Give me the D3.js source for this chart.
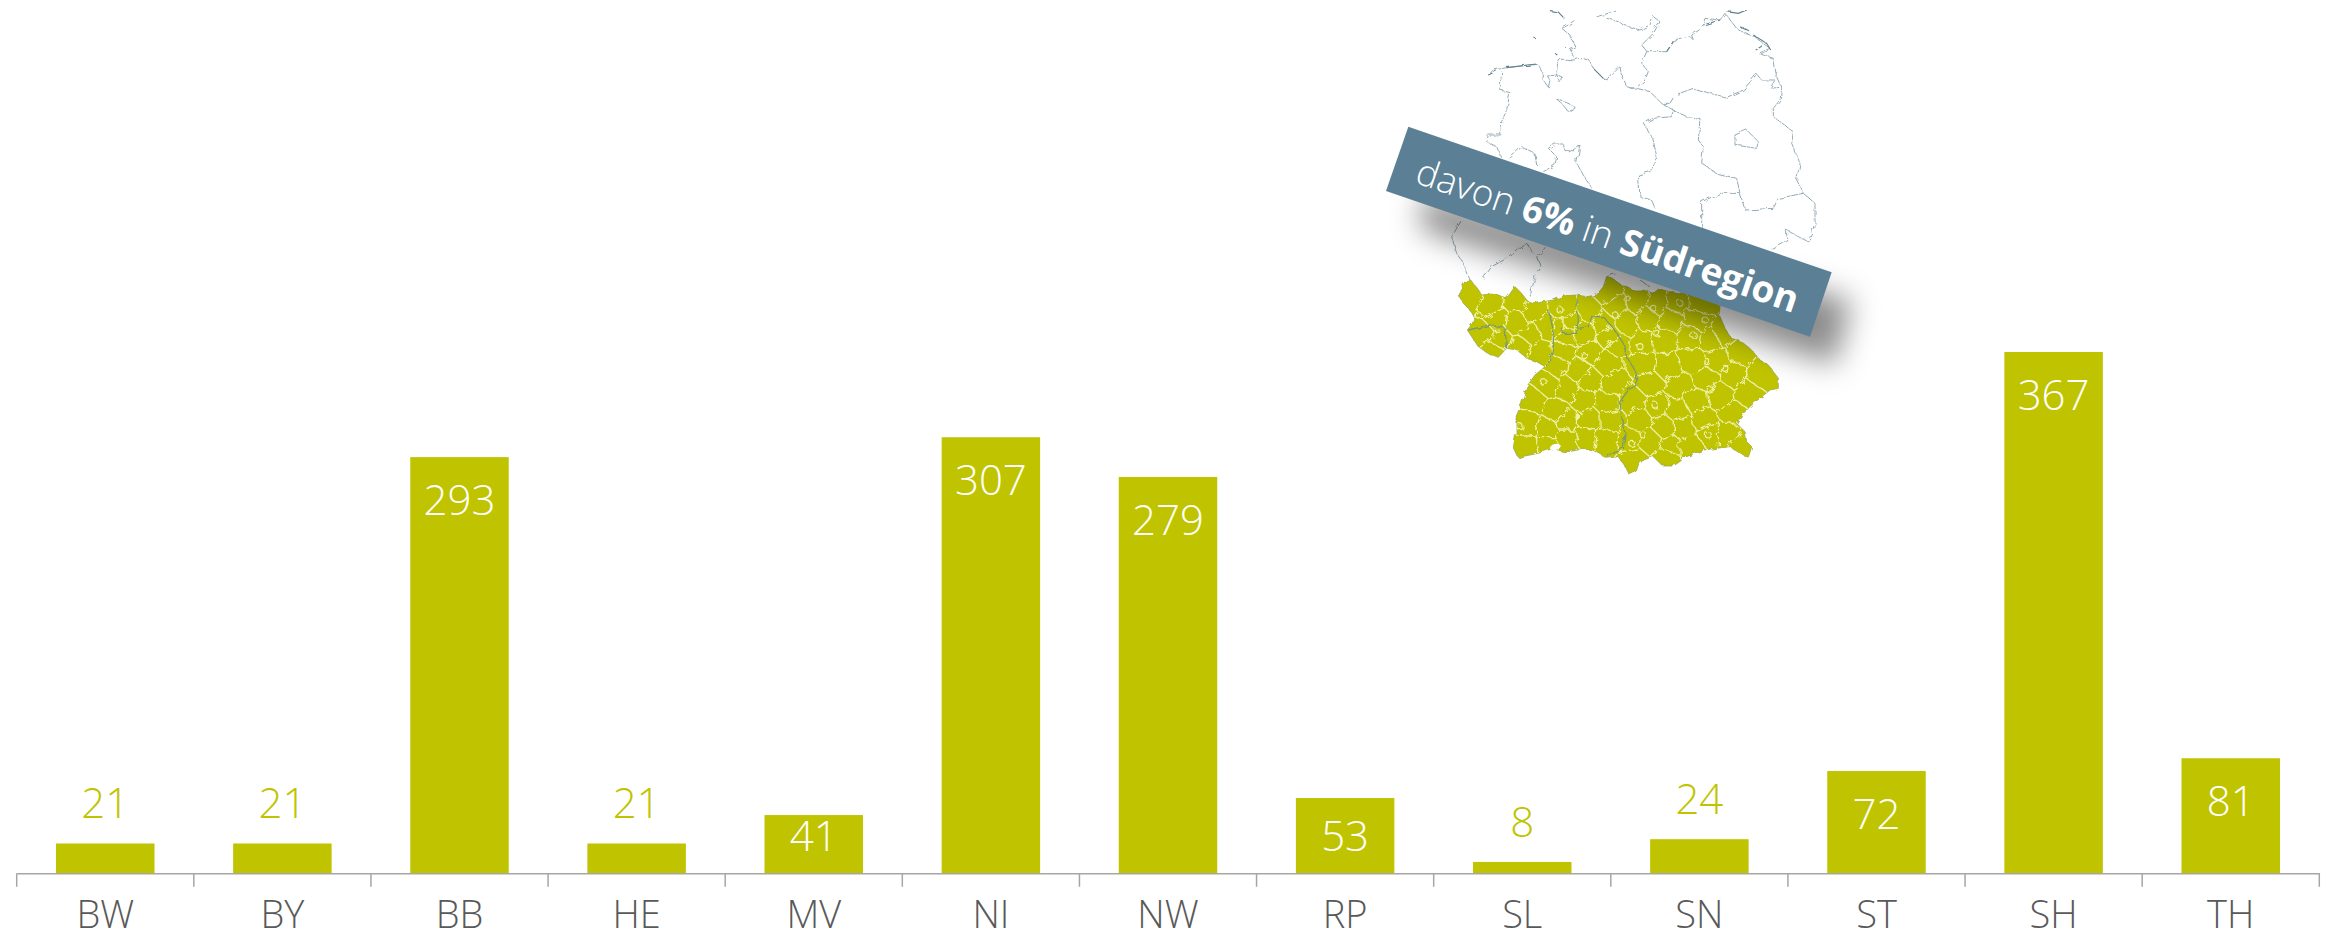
<!DOCTYPE html>
<html>
<head>
<meta charset="utf-8">
<script src="https://cdnjs.cloudflare.com/ajax/libs/d3/7.8.5/d3.min.js"></script>
<style>
  html, body { margin: 0; padding: 0; background: #fff; }
  text { font-family: "Open Sans", sans-serif; }
</style>
</head>
<body>
<div id="my_dataviz"></div>
<script>
var categories = ["BW", "BY", "BB", "HE", "MV", "NI", "NW", "RP", "SL", "SN", "ST", "SH", "TH"];
var values = [21, 21, 293, 21, 41, 307, 279, 53, 8, 24, 72, 367, 81];

var width = 2329, height = 933;
var barColor = "#c0c400";

// map, in its own 1560 x 1470 grid
var southOutline = [[330,870],[345,845],[365,843],[385,870],[395,885],[420,882],[445,885],[470,895],[495,860],[510,875],[530,900],[550,912],[580,905],[610,900],[640,888],[680,885],[710,890],[740,885],[760,860],[770,830],[790,838],[815,855],[850,870],[880,870],[910,880],[925,868],[960,875],[1000,880],[1040,890],[1075,900],[1110,915],[1108,945],[1125,985],[1145,1015],[1175,1025],[1205,1050],[1230,1080],[1255,1095],[1270,1115],[1285,1135],[1285,1165],[1260,1170],[1235,1190],[1205,1215],[1175,1245],[1160,1270],[1185,1295],[1190,1325],[1205,1340],[1195,1372],[1170,1360],[1140,1340],[1100,1345],[1060,1350],[1010,1370],[975,1395],[935,1395],[910,1370],[880,1380],[865,1395],[860,1410],[835,1422],[825,1400],[805,1370],[770,1375],[740,1355],[690,1345],[640,1355],[610,1345],[565,1360],[505,1372],[490,1340],[498,1300],[498,1250],[515,1210],[530,1160],[555,1125],[585,1100],[560,1085],[530,1075],[500,1050],[470,1045],[445,1072],[415,1060],[385,1040],[365,1010],[352,990],[375,960],[360,930],[340,910],[328,890]];

var countyCentres = [[360,890],[420,920],[500,900],[440,960],[550,940],[400,1000],[450,1020],[500,970],[540,1000],[510,1040],[570,1060],[590,980],[430,1055],[640,930],[625,980],[660,960],[650,1010],[770,880],[720,930],[800,920],[860,900],[920,910],[980,905],[1050,910],[760,970],[830,970],[890,950],[960,960],[1040,960],[880,1030],[800,1030],[940,1020],[1020,1010],[1080,1020],[1120,1000],[700,1000],[640,1050],[720,1060],[780,1010],[770,1090],[620,1100],[690,1110],[590,1150],[650,1170],[720,1140],[790,1150],[550,1200],[620,1230],[700,1200],[770,1210],[530,1270],[590,1290],[650,1260],[720,1260],[780,1260],[530,1340],[590,1330],[650,1320],[710,1310],[770,1320],[880,1090],[950,1100],[1030,1080],[1100,1080],[1170,1060],[1230,1120],[1150,1120],[1070,1140],[990,1160],[900,1150],[850,1200],[920,1220],[980,1230],[1040,1200],[1110,1190],[1190,1180],[1150,1240],[1060,1260],[1000,1280],[940,1280],[870,1260],[840,1320],[900,1320],[960,1340],[1020,1340],[1080,1300],[1130,1300],[1180,1340],[850,1380],[950,1370]];

var cityRings = [[385,945],[630,930],[830,895],[795,945],[910,925],[990,910],[1030,1005],[1065,960],[920,1000],[870,1040],[1070,1085],[1125,1105],[705,1070],[640,1120],[580,1145],[915,1215],[1080,1170],[1075,1305],[845,1330],[880,1305],[500,1060],[510,1280]];

var stateBorders = [
  [[595,930],[610,990],[610,1040],[595,1090],[585,1100]],
  [[630,980],[640,1000],[680,1000],[685,960],[680,895]],
  [[685,985],[715,980],[725,950],[760,950],[790,985],[820,1030],[830,1070],[860,1120],[860,1155],[835,1170],[810,1205],[815,1250],[825,1300],[820,1345],[790,1355],[770,1372]],
  [[355,990],[420,975],[465,985],[470,1045]]
];

var northLines = [
  [[415,225],[430,210],[470,203],[520,197],[565,193],[575,215],[580,240],[595,262],[600,240],[592,228],[620,225],[635,230],[630,248],[620,225],[622,195],[630,178],[650,178],[675,180],[695,172],[715,178],[730,205],[760,235],[775,240],[795,215],[810,200],[815,230],[830,260],[860,268]],
  [[455,215],[450,270],[480,278],[470,330],[455,365],[452,405],[415,405],[410,425],[440,440],[452,470]],
  [[480,475],[515,440],[535,450],[555,462],[560,495]],
  [[580,515],[615,495],[620,470],[595,445],[615,432],[640,432],[645,452],[675,452],[690,435],[680,490],[700,525],[725,565]],
  [[620,298],[650,308],[675,320],[672,335],[650,330],[635,310],[620,298]],
  [[635,85],[655,75],[675,60]],
  [[635,85],[660,105],[675,140],[660,150],[675,175]],
  [[740,50],[775,40],[795,30]],
  [[770,55],[805,65],[820,75],[870,90],[900,75],[910,50],[930,65],[910,100],[875,135],[890,155],[875,190],[895,215],[885,240],[860,262],[840,265]],
  [[890,155],[935,155],[950,155],[970,125],[1020,110],[1030,120],[1025,105],[1055,85],[1065,55],[1110,60],[1125,40],[1160,85],[1185,100],[1215,110],[1225,120],[1260,145],[1225,160],[1270,175],[1280,230],[1295,265],[1290,300],[1270,325],[1270,350],[1330,395],[1325,430],[1350,490],[1340,540],[1360,580],[1395,610],[1395,670],[1375,725]],
  [[860,265],[900,275],[935,310],[960,310],[975,285],[1030,265],[1080,280],[1130,292],[1180,270],[1220,222],[1235,240],[1275,240],[1260,265],[1290,262]],
  [[935,310],[970,330],[965,350],[910,355],[882,370],[905,410],[920,480],[900,515],[865,525],[870,590],[905,600],[915,625]],
  [[970,330],[1010,350],[1050,355],[1045,420],[1060,440],[1055,490],[1100,520],[1160,535],[1170,580],[1110,580],[1055,605],[1055,680]],
  [[1170,580],[1185,630],[1270,625],[1285,595],[1360,580]],
  [[1155,405],[1190,390],[1225,425],[1220,445],[1155,435],[1155,405]],
  [[1375,725],[1345,710],[1310,690],[1310,720],[1265,745]],
  [[335,660],[305,710],[320,760],[340,790],[360,840]],
  [[400,835],[425,800],[480,770],[530,730],[550,760]],
  [[590,745],[560,770],[575,800],[555,830],[540,890]],
  [[800,820],[770,830]],
  [[870,840],[900,860]]
];

// short dark bits: islands, estuaries, Baltic coast
var coastBits = [[[553,114],[558,116]],[[642,140],[647,141]],[[615,160],[622,165]],[[415,225],[440,212]],[[470,203],[560,192]],[[600,32],[625,36],[640,52]],[[730,205],[760,235]],[[950,155],[970,125]],[[1060,75],[1110,60]],[[1130,35],[1165,40],[1190,30]],[[1170,80],[1200,95]],[[1210,105],[1250,130],[1262,150]],[[1215,152],[1240,135]]];

var bannerCorners = [[175,380],[1445,817],[1380,1010],[108,573]];
var shadowCorners = [[215,585],[1505,900],[1455,1095],[215,690]];
var lakeCentre = [616, 1341];

var svg = d3.select("#my_dataviz").append("svg").attr("width", width).attr("height", height).style("display", "block");
var defs = svg.append("defs");

// ----------------
// bars and axis
// ----------------
var xs = d3.scaleBand().domain(categories).range([16.7, 2319.3]).paddingInner(0.444).paddingOuter(0.222);
var ys = d3.scaleLinear().domain([0, 367]).range([873.3, 352]);

svg.append("g").selectAll("rect")
  .data(categories)
  .enter()
  .append("rect")
  .attr("x", function (d) { return xs(d); })
  .attr("width", xs.bandwidth())
  .attr("y", function (d, i) { return ys(values[i]); })
  .attr("height", function (d, i) { return ys(0) - ys(values[i]); })
  .attr("fill", barColor);

var axis = svg.append("g")
  .attr("transform", "translate(0," + ys(0) + ")")
  .call(d3.axisBottom(xs).tickSize(0).tickPadding(28));
axis.select(".domain").attr("stroke", "#a6a6a6").attr("stroke-width", 1.5);
axis.selectAll("text")
  .style("font-family", '"Open Sans", sans-serif')
  .style("font-size", "38px")
  .style("font-weight", 300)
  .attr("fill", "#595959");

// ticks sit on the band edges, not the centres
var step = xs.step();
axis.selectAll(".edge")
  .data(d3.range(categories.length + 1))
  .enter()
  .append("line")
  .attr("class", "edge")
  .attr("x1", function (i) { return 16.7 + i * step; })
  .attr("x2", function (i) { return 16.7 + i * step; })
  .attr("y1", 0)
  .attr("y2", 13.4)
  .attr("stroke", "#a6a6a6")
  .attr("stroke-width", 1.5);

svg.append("g").selectAll("text")
  .data(categories)
  .enter()
  .append("text")
  .attr("x", function (d) { return xs(d) + xs.bandwidth() / 2; })
  .attr("y", function (d, i) {
    var h = ys(0) - ys(values[i]);
    if (values[i] < 30) { return ys(values[i]) - 25; }
    return ys(values[i]) + Math.min(58, h - 22);
  })
  .attr("text-anchor", "middle")
  .style("font-size", "42px")
  .style("font-weight", 350)
  .attr("fill", function (d, i) { return values[i] < 30 ? barColor : "#fff"; })
  .text(function (d, i) { return values[i]; });

// ----------------
// map
// ----------------
var mx = d3.scaleLinear().domain([0, 1560]).range([1350, 1870]);
var my = d3.scaleLinear().domain([0, 1470]).range([0, 490]);
var mapLine = d3.line().x(function (d) { return mx(d[0]); }).y(function (d) { return my(d[1]); });

function addWiggle(id, freq, amount, seed) {
  var f = defs.append("filter").attr("id", id)
    .attr("filterUnits", "userSpaceOnUse")
    .attr("x", 1350).attr("y", 0).attr("width", 520).attr("height", 490);
  f.append("feTurbulence").attr("type", "fractalNoise").attr("baseFrequency", freq).attr("numOctaves", 2).attr("seed", seed).attr("result", "n");
  f.append("feDisplacementMap").attr("in", "SourceGraphic").attr("in2", "n").attr("scale", amount);
}
addWiggle("wiggle", 0.1, 8, 4);
addWiggle("edge", 0.16, 5, 9);
addWiggle("northWiggle", 0.14, 5, 2);

var soft = defs.append("filter").attr("id", "soft")
  .attr("filterUnits", "userSpaceOnUse")
  .attr("x", 1350).attr("y", 0).attr("width", 560).attr("height", 490);
soft.append("feGaussianBlur").attr("stdDeviation", 15);

defs.append("clipPath").attr("id", "southClip")
  .append("path").attr("d", mapLine(southOutline) + "Z");

var north = svg.append("g").attr("filter", "url(#northWiggle)");
north.append("g").selectAll("path")
  .data(northLines)
  .enter()
  .append("path")
  .attr("d", mapLine)
  .attr("fill", "none")
  .attr("stroke", "#93aab3")
  .attr("stroke-width", 1)
  .attr("stroke-dasharray", "7 0.8");
north.append("g").selectAll("path")
  .data(coastBits)
  .enter()
  .append("path")
  .attr("d", mapLine)
  .attr("fill", "none")
  .attr("stroke", "#5f7f8c")
  .attr("stroke-width", 1.1);

var southEdge = svg.append("g").attr("filter", "url(#edge)");
southEdge.append("path")
  .attr("d", mapLine(southOutline) + "Z")
  .attr("fill", barColor)
  .attr("stroke", "#9aa84a")
  .attr("stroke-width", 0.8);

var countyPts = countyCentres.map(function (d) { return [mx(d[0]), my(d[1])]; });
var voronoi = d3.Delaunay.from(countyPts).voronoi([1350, 250, 1800, 490]);

var south = southEdge.append("g").attr("clip-path", "url(#southClip)");
south.append("path")
  .attr("d", voronoi.render())
  .attr("fill", "none")
  .attr("stroke", "#eef0a6")
  .attr("stroke-width", 1.3)
  .attr("filter", "url(#wiggle)");
south.append("g").selectAll("circle")
  .data(cityRings)
  .enter()
  .append("circle")
  .attr("cx", function (d) { return mx(d[0]); })
  .attr("cy", function (d) { return my(d[1]); })
  .attr("r", 3)
  .attr("fill", "none")
  .attr("stroke", "#eef0a6")
  .attr("stroke-width", 1.1);
south.append("g").selectAll("path")
  .data(stateBorders)
  .enter()
  .append("path")
  .attr("d", mapLine)
  .attr("fill", "none")
  .attr("stroke", "#7d9a6c")
  .attr("stroke-width", 1.3);

svg.append("ellipse")
  .attr("cx", mx(lakeCentre[0]))
  .attr("cy", my(lakeCentre[1]))
  .attr("rx", 5.5)
  .attr("ry", 3)
  .attr("transform", "rotate(-15," + mx(lakeCentre[0]) + "," + my(lakeCentre[1]) + ")")
  .attr("fill", "#fff");

// ----------------
// banner
// ----------------
svg.append("path")
  .attr("d", mapLine(shadowCorners) + "Z")
  .attr("fill", "#000")
  .attr("fill-opacity", 0.45)
  .attr("filter", "url(#soft)");

svg.append("path")
  .attr("d", mapLine(bannerCorners) + "Z")
  .attr("fill", "#5b7f95");

var cx = d3.mean(bannerCorners, function (d) { return mx(d[0]); });
var cy = d3.mean(bannerCorners, function (d) { return my(d[1]); });
var label = svg.append("text")
  .attr("transform", "translate(" + cx + "," + cy + ") rotate(19)")
  .attr("y", 17)
  .attr("text-anchor", "middle")
  .attr("fill", "#fff")
  .style("font-size", "37px")
  .style("font-weight", 350);
label.append("tspan").text("davon ");
label.append("tspan").style("font-weight", 700).text("6%");
label.append("tspan").text(" in ");
label.append("tspan").style("font-weight", 700).text("Südregion");
</script>
</body>
</html>
